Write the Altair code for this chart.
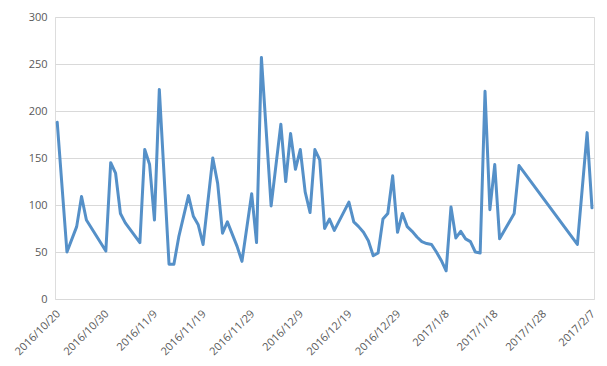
import altair as alt
import pandas as pd

dates = [
    "2016/10/20", "2016/10/22", "2016/10/24", "2016/10/25", "2016/10/26",
    "2016/10/30", "2016/10/31", "2016/11/1", "2016/11/2", "2016/11/3",
    "2016/11/6", "2016/11/7", "2016/11/8", "2016/11/9", "2016/11/10",
    "2016/11/12", "2016/11/13", "2016/11/14", "2016/11/16", "2016/11/17",
    "2016/11/18", "2016/11/19", "2016/11/21", "2016/11/22", "2016/11/23",
    "2016/11/24", "2016/11/26", "2016/11/27", "2016/11/29", "2016/11/30",
    "2016/12/1", "2016/12/3", "2016/12/5", "2016/12/6", "2016/12/7",
    "2016/12/8", "2016/12/9", "2016/12/10", "2016/12/11", "2016/12/12",
    "2016/12/13", "2016/12/14", "2016/12/15", "2016/12/16", "2016/12/19",
    "2016/12/20", "2016/12/21", "2016/12/22", "2016/12/23", "2016/12/24",
    "2016/12/25", "2016/12/26", "2016/12/27", "2016/12/28", "2016/12/29",
    "2016/12/30", "2016/12/31", "2017/1/1", "2017/1/2", "2017/1/3",
    "2017/1/4", "2017/1/5", "2017/1/6", "2017/1/7", "2017/1/8",
    "2017/1/9", "2017/1/10", "2017/1/11", "2017/1/12", "2017/1/13",
    "2017/1/14", "2017/1/15", "2017/1/16", "2017/1/17", "2017/1/18",
    "2017/1/19", "2017/1/22", "2017/1/23", "2017/2/4", "2017/2/6",
    "2017/2/7",
]
values = [
    188, 50, 77, 109, 84,
    51, 145, 134, 91, 81,
    60, 159, 143, 84, 223,
    37, 37, 66, 110, 88,
    79, 58, 150, 123, 70,
    82, 56, 40, 112, 60,
    257, 99, 186, 125, 176,
    138, 159, 114, 92, 159,
    148, 75, 85, 73, 103,
    82, 77, 71, 62, 46,
    49, 85, 91, 131, 71,
    91, 77, 72, 66, 61,
    59, 58, 50, 41, 30,
    98, 65, 72, 64, 61,
    50, 49, 221, 95, 143,
    64, 91, 142, 58, 177,
    97,
]
tick_labels = [
    "2016/10/20", "2016/10/30", "2016/11/9", "2016/11/19", "2016/11/29",
    "2016/12/9", "2016/12/19", "2016/12/29", "2017/1/8", "2017/1/18",
    "2017/1/28", "2017/2/7",
]
y_ticks = [0, 50, 100, 150, 200, 250, 300]


def to_dt(s, hours=0):
    y, m, d = (int(p) for p in s.split("/"))
    return alt.DateTime(year=y, month=m, date=d, hours=hours)


df = pd.DataFrame({"date": dates, "value": values})

grey_text = "#595959"

chart = (
    alt.Chart(df)
    .mark_line(color="#5590C8", strokeWidth=3, strokeJoin="round", strokeCap="round")
    .encode(
        x=alt.X(
            "date:T",
            scale=alt.Scale(domain=[to_dt("2016/10/19", 13), to_dt("2017/2/7", 10)]),
            axis=alt.Axis(
                values=[to_dt(t) for t in tick_labels],
                format="%Y/%-m/%-d",
                labelAngle=-45,
                labelAlign="right",
                labelBaseline="middle",
                labelPadding=13,
                labelOffset=1,
                labelFont="Open Sans",
                labelFontSize=11,
                labelColor=grey_text,
                ticks=False,
                domain=False,
                grid=False,
                title=None,
                labelOverlap=False,
                labelFlush=False,
                labelBound=False,
            ),
        ),
        y=alt.Y(
            "value:Q",
            scale=alt.Scale(domain=[0, 300], nice=False, zero=True),
            axis=alt.Axis(
                values=y_ticks,
                ticks=False,
                domain=False,
                grid=True,
                gridColor="#D9D9D9",
                gridWidth=1,
                labelPadding=8,
                labelFont="Open Sans",
                labelFontSize=11,
                labelColor=grey_text,
                title=None,
            ),
        ),
    )
    .properties(
        width=539,
        height=282,
        padding={"left": 47, "top": 9, "right": 5, "bottom": 59},
        autosize=alt.AutoSizeParams(type="none"),
    )
    .configure_view(stroke=None)
    .configure(background="white")
)

chart.save("out.html", embed_options={"renderer": "svg", "actions": False})
